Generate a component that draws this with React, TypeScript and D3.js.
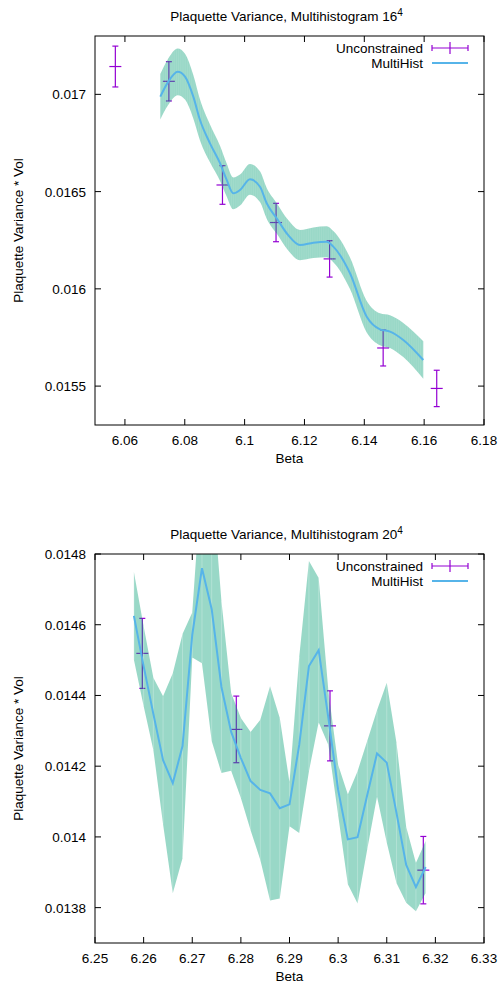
import React from 'react';
import * as d3 from 'd3';

// ---------- Top chart (16^4) ----------
const topUnconBeta = [6.0568, 6.0747, 6.0926, 6.1105, 6.1284, 6.1463, 6.1642];
const topUnconVal = [0.017143, 0.017067, 0.016534, 0.016341, 0.016154, 0.015696, 0.015488];
const topUnconErr = [0.000105, 0.000101, 0.0000993, 0.0000987, 0.0000935, 0.0000925, 0.0000935];

const topMultiBeta = [6.07182, 6.0744, 6.07764, 6.08008, 6.08285, 6.08509, 6.08843, 6.09177, 6.09401, 6.09622, 6.09846, 6.1018, 6.10514, 6.10738, 6.11072, 6.1145, 6.11851, 6.12296, 6.12743, 6.12964, 6.13522, 6.1408, 6.14524, 6.14859, 6.15303, 6.15971];
const topMultiVal = [0.016988, 0.017063, 0.017116, 0.017091, 0.016988, 0.016868, 0.016748, 0.016646, 0.01656, 0.016491, 0.016508, 0.016563, 0.016525, 0.01644, 0.016363, 0.016277, 0.016225, 0.016237, 0.016242, 0.016217, 0.01608, 0.015857, 0.015792, 0.01578, 0.015737, 0.015634];
const topMultiErr = [0.000117, 0.000119, 0.00012, 0.000118, 0.000112, 0.000105, 0.000097, 0.00009, 0.000085, 0.000082, 0.00008, 0.000079, 0.000079, 0.000079, 0.000079, 0.000078, 0.000078, 0.000079, 0.00008, 0.00008, 0.000081, 0.000081, 0.000082, 0.000084, 0.000088, 0.000096];

const topXTicks = [6.06, 6.08, 6.1, 6.12, 6.14, 6.16, 6.18];
const topXLabels = ['6.06', '6.08', '6.1', '6.12', '6.14', '6.16', '6.18'];
const topYTicks = [0.0155, 0.016, 0.0165, 0.017];
const topYLabels = ['0.0155', '0.016', '0.0165', '0.017'];

// ---------- Bottom chart (20^4) ----------
const botUnconBeta = [6.25973, 6.27906, 6.29833, 6.31752];
const botUnconVal = [0.014519, 0.014304, 0.014314, 0.013906];
const botUnconErr = [0.000099, 0.0000942, 0.000099, 0.0000953];

const botMultiBeta = [6.258, 6.26, 6.262, 6.264, 6.266, 6.268, 6.27, 6.272, 6.274, 6.276, 6.278, 6.28, 6.282, 6.284, 6.286, 6.288, 6.29, 6.292, 6.294, 6.296, 6.298, 6.3, 6.302, 6.304, 6.306, 6.308, 6.31, 6.312, 6.314, 6.316, 6.318];
const botMultiVal = [0.014625, 0.014483, 0.014348, 0.014217, 0.014152, 0.014257, 0.014571, 0.01476, 0.014644, 0.014424, 0.014297, 0.014223, 0.014158, 0.014133, 0.014123, 0.014081, 0.014092, 0.01426, 0.014483, 0.014528, 0.014336, 0.014133, 0.013993, 0.013999, 0.014119, 0.014236, 0.01421, 0.014068, 0.013921, 0.013858, 0.013915];
const botMultiErr = [0.000124, 0.000113, 0.000102, 0.000181, 0.000311, 0.000317, 0.0000636, 0.000269, 0.000373, 0.000243, 0.00011, 0.000113, 0.000139, 0.000198, 0.000303, 0.000255, 0.0000622, 0.000249, 0.000297, 0.000204, 0.0000763, 0.0000707, 0.000127, 0.000187, 0.000153, 0.000122, 0.000226, 0.000198, 0.000107, 0.0000679, 0.0000735];

const botXTicks = [6.25, 6.26, 6.27, 6.28, 6.29, 6.3, 6.31, 6.32, 6.33];
const botXLabels = ['6.25', '6.26', '6.27', '6.28', '6.29', '6.3', '6.31', '6.32', '6.33'];
const botYTicks = [0.0138, 0.014, 0.0142, 0.0144, 0.0146, 0.0148];
const botYLabels = ['0.0138', '0.014', '0.0142', '0.0144', '0.0146', '0.0148'];

const legendLabels = ['Unconstrained', 'MultiHist'];
const FONT = '"Liberation Sans", Arial, Helvetica, sans-serif';
const PURPLE = '#9400d3';
const GREEN = '#009e73';
const BLUE = '#56b4e9';

type Props = {
  id: string;
  top: number;
  lattice: string;
  xDomain: [number, number];
  yDomain: [number, number];
  xTicks: number[];
  xLabels: string[];
  yTicks: number[];
  yLabels: string[];
  uB: number[]; uV: number[]; uE: number[];
  mB: number[]; mV: number[]; mE: number[];
  smooth: boolean;
};

function Chart(p: Props) {
  const left = 95, right = 484;
  const top = p.top, bottom = p.top + 389;
  const x = d3.scaleLinear().domain(p.xDomain).range([left, right]);
  const y = d3.scaleLinear().domain(p.yDomain).range([bottom, top]);
  const idx = p.mB.map((_, i) => i);
  const curve = p.smooth ? d3.curveMonotoneX : d3.curveLinear;
  const area = d3.area<number>()
    .x(i => x(p.mB[i]))
    .y0(i => y(p.mV[i] - p.mE[i]))
    .y1(i => y(p.mV[i] + p.mE[i]))
    .curve(curve);
  const line = d3.line<number>().x(i => x(p.mB[i])).y(i => y(p.mV[i])).curve(curve);
  const tick = 6;
  const cx = (left + right) / 2;
  const cy = (top + bottom) / 2;
  const legY1 = top + 12;
  const legY2 = top + 27;
  const stripeXs = p.smooth ? d3.range(Math.ceil(x(p.mB[0])), x(p.mB[p.mB.length - 1]), 2.2) : [];
  return (
    <g fontFamily={FONT} fontSize={13.5} fill="#000">
      <defs>
        <clipPath id={p.id}>
          <rect x={left} y={top} width={right - left} height={bottom - top} />
        </clipPath>
        <clipPath id={p.id + 'band'}>
          <path d={area(idx) || ''} />
        </clipPath>
      </defs>
      <text x={cx - 3} y={top - 15} textAnchor="middle">
        Plaquette Variance, Multihistogram {p.lattice}
        <tspan dy={-5} fontSize={10}>4</tspan>
      </text>
      <g clipPath={`url(#${p.id})`}>
        {p.uB.map((b, i) => {
          const px = x(b), py = y(p.uV[i]);
          const y1 = y(p.uV[i] + p.uE[i]), y2 = y(p.uV[i] - p.uE[i]);
          return (
            <g key={i} stroke={PURPLE} strokeWidth={1.2} fill="none">
              <line x1={px} x2={px} y1={y1} y2={y2} />
              <line x1={px - 3} x2={px + 3} y1={y1} y2={y1} />
              <line x1={px - 3} x2={px + 3} y1={y2} y2={y2} />
              <line x1={px - 6} x2={px + 6} y1={py} y2={py} />
            </g>
          );
        })}
        <path d={area(idx) || ''} fill={GREEN} fillOpacity={0.4} stroke="none" />
        <g clipPath={`url(#${p.id}band)`}>
          {stripeXs.map((sx, i) => (
            <line key={i} x1={sx} x2={sx} y1={top} y2={bottom} stroke="#fff" strokeOpacity={0.12} strokeWidth={0.8} />
          ))}
        </g>
        {!p.smooth && idx.map(i => (
          <line key={i} x1={x(p.mB[i])} x2={x(p.mB[i])} y1={y(p.mV[i] - p.mE[i])} y2={y(p.mV[i] + p.mE[i])}
            stroke="#fff" strokeOpacity={0.25} strokeWidth={1} />
        ))}
        <path d={line(idx) || ''} fill="none" stroke={BLUE} strokeWidth={2} />
      </g>
      <g stroke="#000" strokeWidth={1}>
        {p.xTicks.map((t, i) => (
          <g key={i}>
            <line x1={x(t)} x2={x(t)} y1={bottom} y2={bottom - tick} />
            <line x1={x(t)} x2={x(t)} y1={top} y2={top + tick} />
          </g>
        ))}
        {p.yTicks.map((t, i) => (
          <g key={i}>
            <line x1={left} x2={left + tick} y1={y(t)} y2={y(t)} />
            <line x1={right} x2={right - tick} y1={y(t)} y2={y(t)} />
          </g>
        ))}
        <rect x={left} y={top} width={right - left} height={bottom - top} fill="none" />
      </g>
      {p.xTicks.map((t, i) => (
        <text key={i} x={x(t)} y={bottom + 20} textAnchor="middle">{p.xLabels[i]}</text>
      ))}
      {p.yTicks.map((t, i) => (
        <text key={i} x={left - 9} y={y(t) + 5} textAnchor="end">{p.yLabels[i]}</text>
      ))}
      <text x={cx} y={bottom + 38} textAnchor="middle">Beta</text>
      <text transform={`translate(23,${cy}) rotate(-90)`} textAnchor="middle">Plaquette Variance * Vol</text>
      <text x={423} y={legY1 + 5} textAnchor="end">{legendLabels[0]}</text>
      <g stroke={PURPLE} strokeWidth={1.2}>
        <line x1={432} x2={468} y1={legY1} y2={legY1} />
        <line x1={432} x2={432} y1={legY1 - 3} y2={legY1 + 3} />
        <line x1={468} x2={468} y1={legY1 - 3} y2={legY1 + 3} />
        <line x1={450} x2={450} y1={legY1 - 6} y2={legY1 + 6} />
      </g>
      <text x={423} y={legY2 + 5} textAnchor="end">{legendLabels[1]}</text>
      <line x1={432} x2={468} y1={legY2} y2={legY2} stroke={BLUE} strokeWidth={2} />
    </g>
  );
}

export default function App() {
  return (
    <svg width={500} height={985} style={{ position: 'absolute', left: 0, top: 0, background: '#fff' }}>
      <rect x={0} y={0} width={500} height={985} fill="#fff" />
      <Chart id="clipTop" top={36} lattice="16" xDomain={[6.05, 6.18]} yDomain={[0.0153, 0.0173]}
        xTicks={topXTicks} xLabels={topXLabels} yTicks={topYTicks} yLabels={topYLabels}
        uB={topUnconBeta} uV={topUnconVal} uE={topUnconErr}
        mB={topMultiBeta} mV={topMultiVal} mE={topMultiErr} smooth={true} />
      <Chart id="clipBot" top={554} lattice="20" xDomain={[6.25, 6.33]} yDomain={[0.0137, 0.0148]}
        xTicks={botXTicks} xLabels={botXLabels} yTicks={botYTicks} yLabels={botYLabels}
        uB={botUnconBeta} uV={botUnconVal} uE={botUnconErr}
        mB={botMultiBeta} mV={botMultiVal} mE={botMultiErr} smooth={false} />
    </svg>
  );
}
